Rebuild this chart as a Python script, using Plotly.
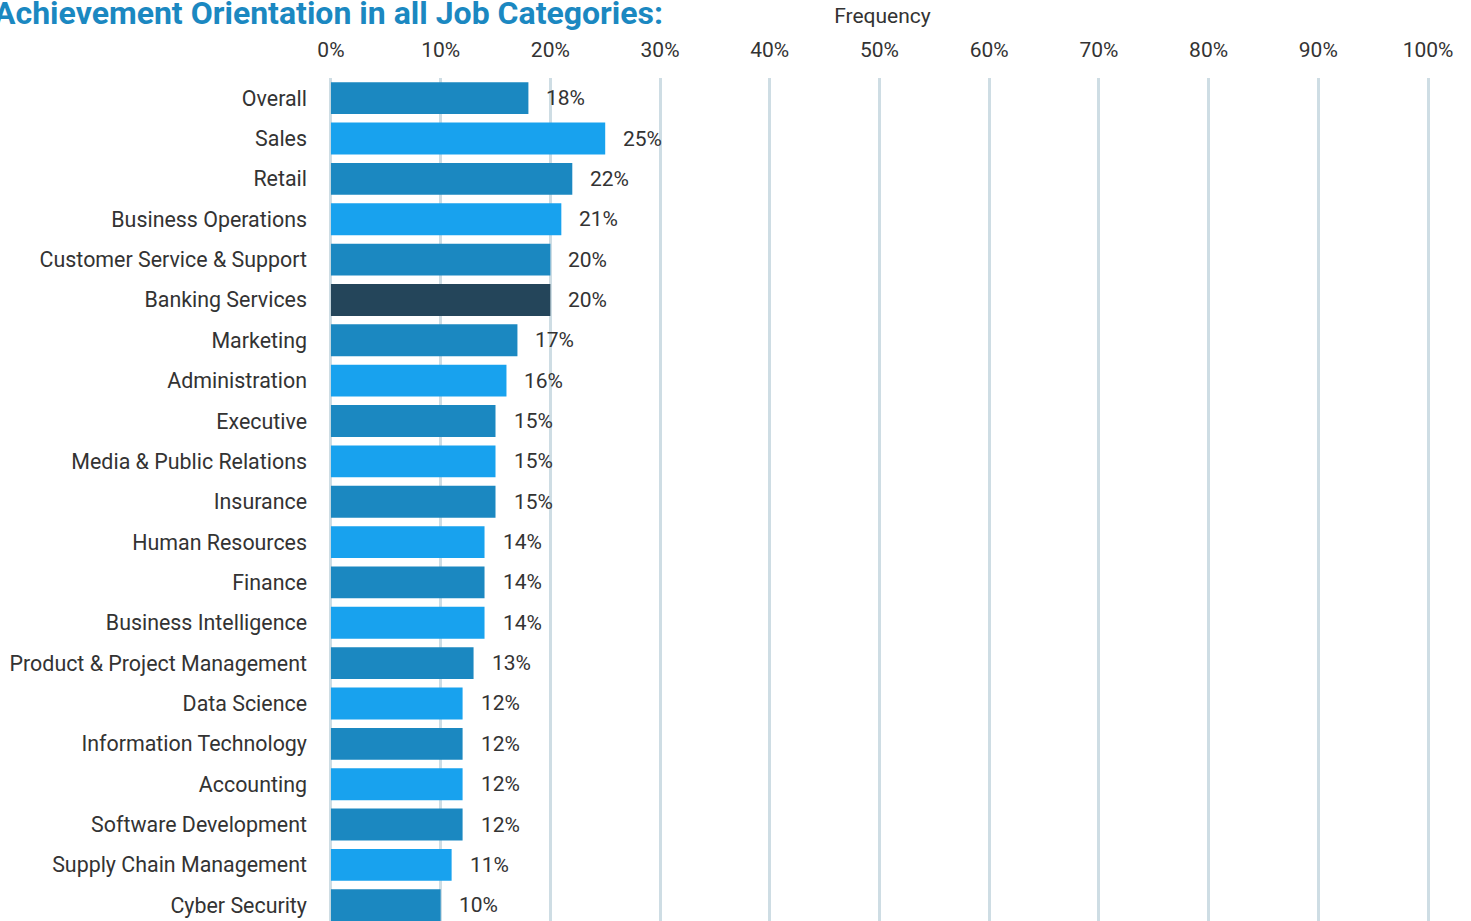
import plotly.graph_objects as go

categories = [
    "Overall", "Sales", "Retail", "Business Operations", "Customer Service & Support",
    "Banking Services", "Marketing", "Administration", "Executive", "Media & Public Relations",
    "Insurance", "Human Resources", "Finance", "Business Intelligence",
    "Product & Project Management", "Data Science", "Information Technology", "Accounting",
    "Software Development", "Supply Chain Management", "Cyber Security",
]
frequency = [18, 25, 22, 21, 20, 20, 17, 16, 15, 15, 15, 14, 14, 14, 13, 12, 12, 12, 12, 11, 10]
highlight = "Banking Services"

tick_values = list(range(0, 101, 10))
tick_labels = [f"{v}%" for v in tick_values]

DARK = "#1B88C1"
BRIGHT = "#18A2EE"
NAVY = "#24455A"
TEXT = "#333333"
colors = [NAVY if c == highlight else (DARK if i % 2 == 0 else BRIGHT)
          for i, c in enumerate(categories)]

fig = go.Figure()
fig.add_trace(go.Bar(
    x=frequency, y=categories, orientation="h",
    marker=dict(color=colors, line=dict(width=0)),
    width=0.79, hoverinfo="skip",
))

for c, v in zip(categories, frequency):
    fig.add_annotation(
        x=v, y=c, xref="x", yref="y", text=f"{v}%", showarrow=False,
        xanchor="left", xshift=16, font=dict(family="Roboto", size=21, color=TEXT),
    )

fig.add_annotation(
    x=0, y=1, xref="paper", yref="paper", xanchor="left", yanchor="bottom",
    xshift=-334, yshift=44,
    text="<b>Achievement Orientation in all Job Categories:</b>", showarrow=False,
    font=dict(family="Roboto", size=32, color="#1B88C1"),
)

# a little padding on both ends keeps the 0% and 100% gridlines visible
fig.update_layout(
    width=1471, height=921,
    margin=dict(l=326, r=32, t=78, b=0, pad=0),
    paper_bgcolor="white", plot_bgcolor="white",
    showlegend=False,
    font=dict(family="Roboto", size=21, color=TEXT),
    xaxis=dict(
        side="top", range=[-0.45, 101], tickvals=tick_values, ticktext=tick_labels,
        showgrid=True, gridcolor="#CEDDE4", gridwidth=3,
        zeroline=False, showline=False, ticks="",
        ticklabelstandoff=16,
        tickfont=dict(family="Roboto", size=21, color=TEXT),
        title=dict(text="Frequency", standoff=8,
                   font=dict(family="Roboto", size=21, color=TEXT)),
    ),
    yaxis=dict(
        categoryorder="array", categoryarray=categories,
        range=[20.39, -0.5], showgrid=False, zeroline=False, showline=False,
        ticks="", ticklabelstandoff=18,
        tickfont=dict(family="Roboto", size=21.4, color=TEXT),
    ),
)

fig.write_html("out.html")
